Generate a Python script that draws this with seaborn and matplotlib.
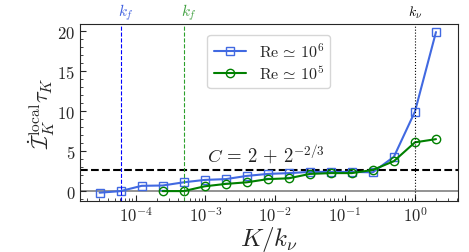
import numpy as np
import pandas as pd
import matplotlib
matplotlib.use("Agg")
import matplotlib.pyplot as plt
import seaborn as sns

# Data (K/k_nu as powers of two)
exp_hi = list(range(-15, 2))
y_hi = [-0.2, 0.0, 0.66, 0.7, 1.1, 1.4, 1.5, 1.9, 2.15, 2.25, 2.4, 2.4, 2.4, 2.35, 4.3, 9.95, 19.9]
exp_lo = list(range(-12, 2))
y_lo = [0.0, 0.0, 0.6, 0.9, 1.1, 1.5, 1.6, 2.15, 2.25, 2.25, 2.65, 3.75, 6.1, 6.5]
labels = [r"$\mathrm{Re}\,\simeq\,10^6$", r"$\mathrm{Re}\,\simeq\,10^5$"]
kf_hi = 2.0 ** -14
kf_lo = 2.0 ** -11
k_nu = 1.0
C = 2 + 2 ** (-2 / 3)

df = pd.concat([
    pd.DataFrame({"x": 2.0 ** np.array(exp_hi), "y": y_hi, "series": labels[0]}),
    pd.DataFrame({"x": 2.0 ** np.array(exp_lo), "y": y_lo, "series": labels[1]}),
])

sns.set_style("ticks")
plt.rcParams["mathtext.fontset"] = "cm"
plt.rcParams["font.family"] = ["serif"]
plt.rcParams["font.serif"] = ["cmr10", "DejaVu Serif"]
plt.rcParams["axes.formatter.use_mathtext"] = True

blue = "#4169E1"
green = "#008000"

fig = plt.figure(figsize=(4.69, 2.53), dpi=100)
ax = fig.add_axes([0.1706, 0.2028, 0.976 - 0.1706, 0.901 - 0.2028])

sns.lineplot(data=df, x="x", y="y", hue="series", style="series",
             markers={labels[0]: "s", labels[1]: "o"}, dashes=False,
             palette={labels[0]: blue, labels[1]: green},
             markerfacecolor="none", markeredgewidth=1.0, markersize=6,
             linewidth=1.5, ax=ax)
for line in ax.lines:
    line.set_markerfacecolor("none")
    line.set_markeredgecolor(line.get_color())

ax.set_xscale("log")
ax.set_xlim(1.6e-5, 4.1)
ax.set_ylim(-1.2, 20.9)

ax.axhline(0, color="gray", lw=1.2, zorder=0)
ax.axhline(C, color="black", ls="--", lw=1.5, zorder=1)
ax.axvline(kf_hi, color="blue", ls="--", lw=0.8)
ax.axvline(kf_lo, color="#2ca02c", ls="--", lw=0.8)
ax.axvline(k_nu, color="black", ls=":", lw=0.8)

trans = matplotlib.transforms.blended_transform_factory(ax.transData, ax.transAxes)
ax.text(kf_hi * 1.2, 1.07, r"$k_f$", color="#4060e0", transform=trans, ha="center", va="center", fontsize=11)
ax.text(kf_lo * 1.2, 1.07, r"$k_f$", color="#40a040", transform=trans, ha="center", va="center", fontsize=11)
ax.text(k_nu * 1.0, 1.07, r"$k_\nu$", color="black", transform=trans, ha="center", va="center", fontsize=10)
ax.text(1.05e-3, C + 0.55, r"$C\,=\,2\,+\,2^{-2/3}$", fontsize=13.5, color="#222222", va="bottom")

ax.set_xlabel(r"$K/k_\nu$", fontsize=18, labelpad=0)
ax.set_ylabel(r"$\dot{\mathcal{I}}_K^{\rm local}\tau_K$", fontsize=16, labelpad=0)
ax.set_yticks([0, 5, 10, 15, 20])
ax.yaxis.set_minor_locator(matplotlib.ticker.MultipleLocator(1))
ax.tick_params(direction="in", which="both", labelsize=12)
ax.tick_params(which="major", length=4)
ax.tick_params(which="minor", length=2)

leg = ax.legend(loc="upper center", bbox_to_anchor=(0.5, 0.985), fontsize=11.5,
                frameon=True, handlelength=2, borderpad=0.4, labelspacing=0.3)
leg.get_frame().set_edgecolor("#cccccc")

fig.savefig("out.png", dpi=100)
